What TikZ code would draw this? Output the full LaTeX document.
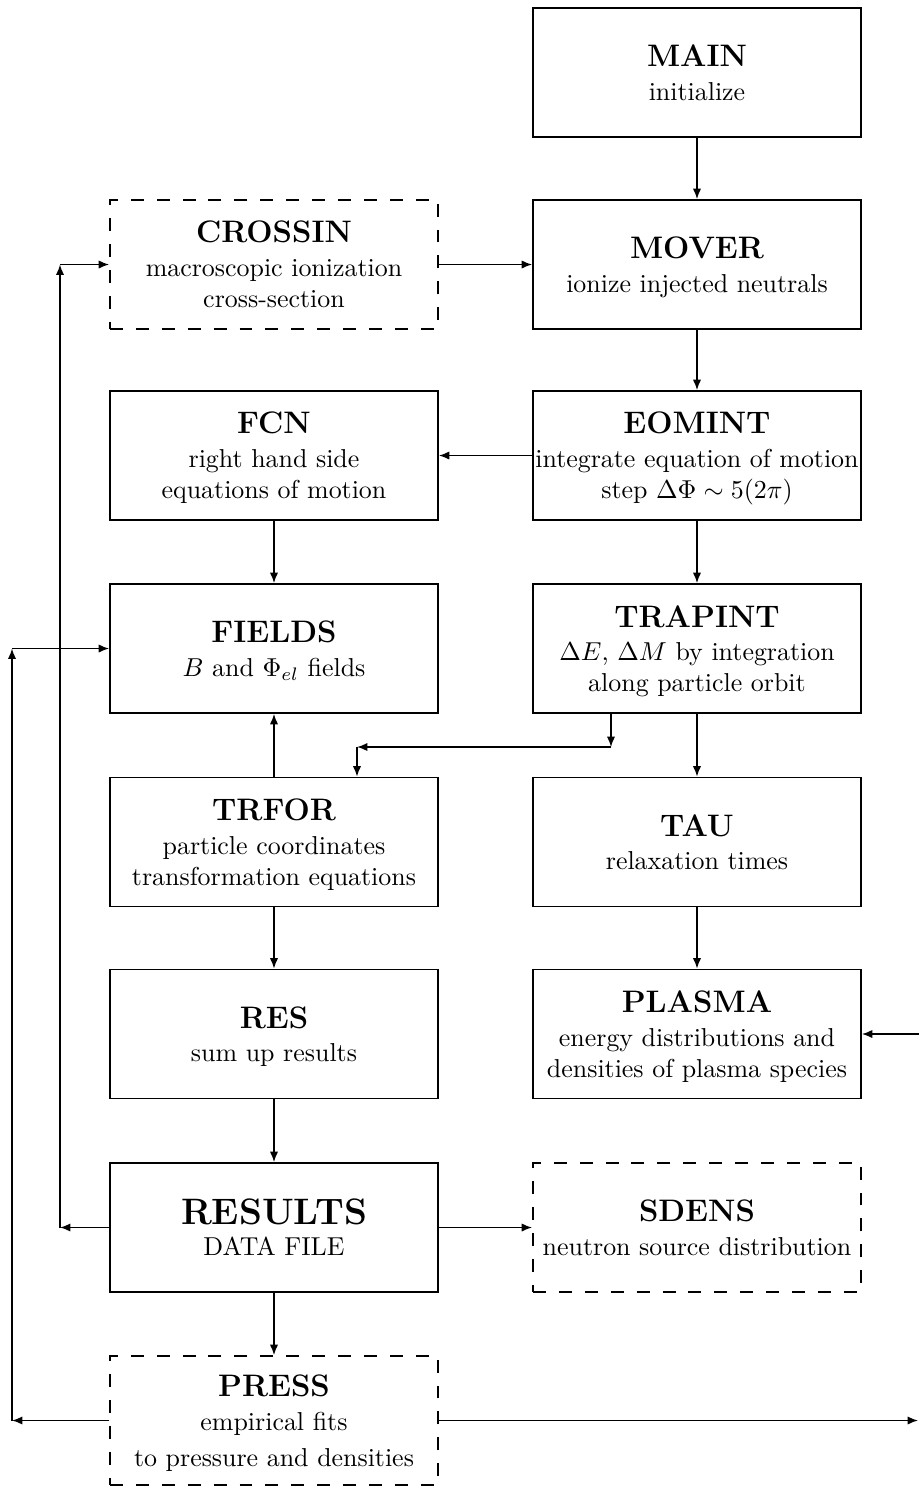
\documentclass[tikz,border=0pt]{standalone}
\usetikzlibrary{arrows.meta}
\newcommand\boxtitle[1]{{\large\bfseries #1}\\[1pt]}
\tikzset{
  blk/.style={draw, line width=0.7pt, minimum width=126.6pt, minimum height=49.8pt, align=center, inner sep=0pt, font=\normalsize, text depth=0pt},
  dblk/.style={blk, dash pattern=on 5pt off 5pt},
  arr/.style={-{Latex[length=4pt,width=3.2pt]}, line width=0.6pt},
}
\begin{document}
\begin{tikzpicture}[x=0.386pt,y=-0.386pt]
\useasboundingbox (0,0) rectangle (919,1486);
% right column
\node[blk] (main)    at (697,72.5)  {\boxtitle{MAIN}initialize};
\node[blk] (mover)   at (697,264.5) {\boxtitle{MOVER}ionize injected neutrals};
\node[blk] (eomint)  at (697,455.5) {\boxtitle{EOMINT}integrate equation of motion\\step $\Delta\Phi\sim 5(2\pi)$};
\node[blk] (trapint) at (697,648.5) {\boxtitle{TRAPINT}$\Delta E$, $\Delta M$ by integration\\along particle orbit};
\node[blk] (tau)     at (697,842)   {\boxtitle{TAU}relaxation times};
\node[blk] (plasma)  at (697,1034)  {\boxtitle{PLASMA}energy distributions and\\densities of plasma species};
\node[dblk] (sdens)  at (697,1227.5){\boxtitle{SDENS}neutron source distribution};
% left column
\node[dblk] (crossin) at (274,264.5) {\boxtitle{CROSSIN}macroscopic ionization\\cross-section};
\node[blk] (fcn)      at (274,455.5) {\boxtitle{FCN}right hand side\\equations of motion};
\node[blk] (fields)   at (274,648.5) {\boxtitle{FIELDS}$B$ and $\Phi_{el}$ fields};
\node[blk] (trfor)    at (274,842)   {\boxtitle{TRFOR}particle coordinates\\transformation equations};
\node[blk] (res)      at (274,1034)  {\boxtitle{RES}sum up results};
\node[blk] (results)  at (274,1227.5){{\fontsize{14.2}{17}\selectfont\bfseries RESULTS}\\DATA FILE};
\node[dblk] (press)   at (274,1420.5){\boxtitle{PRESS}empirical fits\\[2pt]to pressure and densities};
% straight connectors
\draw[arr] (main) -- (mover);
\draw[arr] (crossin) -- (mover);
\draw[arr] (mover) -- (eomint);
\draw[arr] (eomint) -- (fcn);
\draw[arr] (fcn) -- (fields);
\draw[arr] (eomint) -- (trapint);
\draw[arr] (trfor) -- (fields);
\draw[arr] (trapint) -- (tau);
\draw[arr] (trfor) -- (res);
\draw[arr] (tau) -- (plasma);
\draw[arr] (res) -- (results);
\draw[arr] (results) -- (sdens);
\draw[arr] (results) -- (press);
% TRAPINT -> TRFOR
\coordinate (t1) at (611,747);
\coordinate (t2) at (357,747);
\draw[arr] (trapint.south -| t1) -- (t1);
\draw[arr] (t1) -- (t2);
\draw[arr] (t2) -- (trfor.north -| t2);
% RESULTS -> CROSSIN loop
\coordinate (l1) at (60,1227.5);
\coordinate (l2) at (60,264.5);
\draw[arr] (results.west) -- (l1);
\draw[arr] (l1) -- (l2);
\draw[arr] (l2) -- (crossin.west);
% PRESS -> FIELDS loop
\coordinate (p1) at (12,1420.5);
\coordinate (p2) at (12,648.5);
\draw[arr] (press.west) -- (p1);
\draw[arr] (p1) -- (p2);
\draw[arr] (p2) -- (fields.west);
% PRESS -> right edge, right edge -> PLASMA
\coordinate (pr) at (918,1420.5);
\coordinate (pl) at (919,1034);
\draw[arr] (press.east) -- (pr);
\draw[arr] (pl) -- (plasma.east);
\end{tikzpicture}
\end{document}
